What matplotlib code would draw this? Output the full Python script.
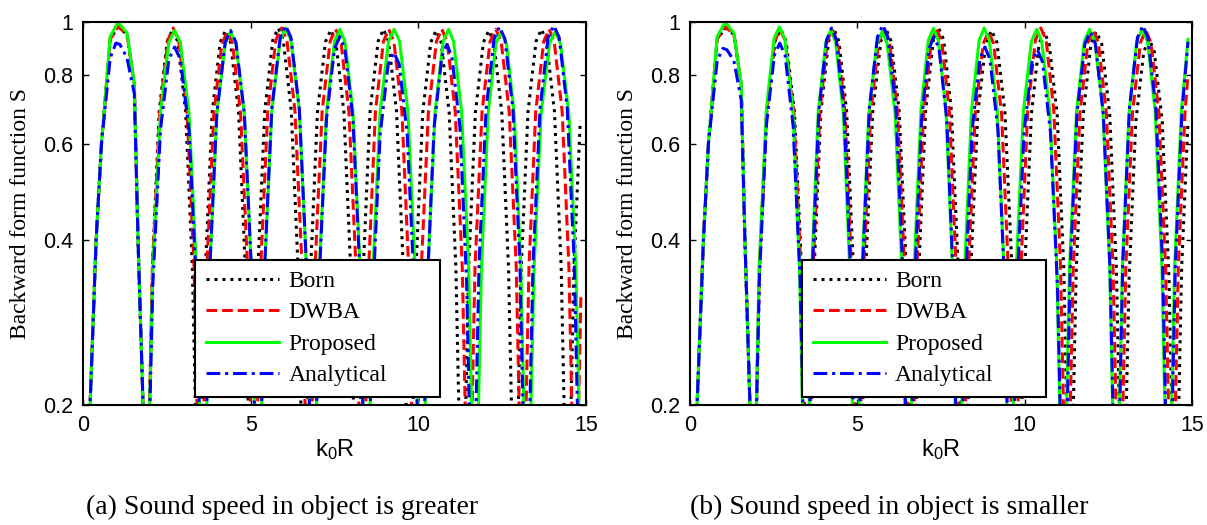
import matplotlib
matplotlib.use('Agg')
import matplotlib.pyplot as plt
from matplotlib.ticker import FixedLocator, FixedFormatter, NullLocator

# ---------------- data ----------------
# panel (a): sound speed in object is greater
a_born_x = [0.05, 0.21, 0.39, 0.55, 0.81, 1.04, 1.31, 1.53, 1.64, 1.79, 1.88,
            2.07, 2.27, 2.51, 2.67, 2.82, 3.06, 3.26, 3.46,
            3.65, 3.85, 4.09, 4.25, 4.40, 4.64, 4.84, 5.03,
            5.22, 5.42, 5.66, 5.82, 5.97, 6.21, 6.41, 6.60,
            6.79, 6.99, 7.23, 7.39, 7.54, 7.78, 7.98, 8.17,
            8.36, 8.56, 8.80, 8.96, 9.11, 9.35, 9.55, 9.74,
            9.93, 10.13, 10.37, 10.53, 10.68, 10.92, 11.12, 11.31,
            11.50, 11.70, 11.94, 12.10, 12.25, 12.49, 12.69, 12.88,
            13.07, 13.27, 13.51, 13.67, 13.82, 14.06, 14.26, 14.45,
            14.64, 14.83]
a_born_y = [0.02, 0.2, 0.4, 0.6, 0.93, 0.98, 0.95, 0.77, 0.4, 0.2, 0.1,
            0.357, 0.686, 0.922, 0.97, 0.922, 0.686, 0.357, 0.1,
            0.355, 0.682, 0.918, 0.965, 0.918, 0.682, 0.355, 0.1,
            0.359, 0.689, 0.927, 0.975, 0.927, 0.689, 0.359, 0.1,
            0.356, 0.684, 0.920, 0.967, 0.920, 0.684, 0.356, 0.1,
            0.357, 0.686, 0.922, 0.97, 0.922, 0.686, 0.357, 0.1,
            0.355, 0.682, 0.918, 0.965, 0.918, 0.682, 0.355, 0.1,
            0.355, 0.682, 0.918, 0.965, 0.918, 0.682, 0.355, 0.1,
            0.357, 0.686, 0.922, 0.97, 0.922, 0.686, 0.357, 0.1,
            0.357, 0.66]

a_dwba_x = [0.05, 0.21, 0.39, 0.55, 0.81, 1.04, 1.31, 1.53, 1.64, 1.79, 1.88,
            2.07, 2.29, 2.53, 2.69, 2.85, 3.10, 3.31, 3.50,
            3.69, 3.90, 4.14, 4.30, 4.46, 4.70, 4.91, 5.10,
            5.30, 5.51, 5.75, 5.92, 6.08, 6.32, 6.53, 6.73,
            6.92, 7.13, 7.37, 7.53, 7.69, 7.93, 8.14, 8.33,
            8.52, 8.72, 8.96, 9.12, 9.27, 9.51, 9.71, 9.90,
            10.09, 10.30, 10.54, 10.70, 10.86, 11.10, 11.31, 11.50,
            11.69, 11.90, 12.14, 12.31, 12.47, 12.71, 12.92, 13.11,
            13.30, 13.50, 13.74, 13.90, 14.05, 14.29, 14.49, 14.68,
            14.85]
a_dwba_y = [0.02, 0.2, 0.4, 0.6, 0.93, 0.98, 0.95, 0.77, 0.4, 0.2, 0.1,
            0.359, 0.689, 0.927, 0.975, 0.927, 0.689, 0.359, 0.1,
            0.353, 0.679, 0.913, 0.96, 0.913, 0.679, 0.353, 0.1,
            0.359, 0.689, 0.927, 0.975, 0.927, 0.689, 0.359, 0.1,
            0.357, 0.686, 0.922, 0.97, 0.922, 0.686, 0.357, 0.1,
            0.357, 0.686, 0.922, 0.97, 0.922, 0.686, 0.357, 0.1,
            0.357, 0.686, 0.922, 0.97, 0.922, 0.686, 0.357, 0.1,
            0.357, 0.686, 0.922, 0.97, 0.922, 0.686, 0.357, 0.1,
            0.357, 0.686, 0.922, 0.97, 0.922, 0.686, 0.357, 0.1,
            0.32]

a_prop_x = [0.05, 0.21, 0.39, 0.55, 0.81, 1.04, 1.31, 1.53, 1.64, 1.79, 1.88,
            2.08, 2.31, 2.56, 2.73, 2.90, 3.16, 3.38, 3.58,
            3.78, 3.99, 4.24, 4.40, 4.56, 4.81, 5.02, 5.22,
            5.42, 5.63, 5.88, 6.04, 6.20, 6.45, 6.66, 6.86,
            7.05, 7.26, 7.50, 7.66, 7.81, 8.05, 8.26, 8.45,
            8.65, 8.86, 9.11, 9.28, 9.44, 9.69, 9.90, 10.10,
            10.29, 10.50, 10.74, 10.90, 11.05, 11.29, 11.50, 11.69,
            11.88, 12.08, 12.31, 12.47, 12.63, 12.86, 13.06, 13.25,
            13.45, 13.66, 13.91, 14.08, 14.24, 14.49, 14.70, 14.90]
a_prop_y = [0.02, 0.2, 0.4, 0.6, 0.94, 1.0, 0.955, 0.77, 0.4, 0.2, 0.1,
            0.355, 0.682, 0.918, 0.965, 0.918, 0.682, 0.355, 0.1,
            0.353, 0.679, 0.913, 0.96, 0.913, 0.679, 0.353, 0.1,
            0.359, 0.689, 0.927, 0.975, 0.927, 0.689, 0.359, 0.1,
            0.357, 0.686, 0.922, 0.97, 0.922, 0.686, 0.357, 0.1,
            0.357, 0.686, 0.922, 0.97, 0.922, 0.686, 0.357, 0.1,
            0.357, 0.686, 0.922, 0.97, 0.922, 0.686, 0.357, 0.1,
            0.353, 0.679, 0.913, 0.96, 0.913, 0.679, 0.353, 0.1,
            0.353, 0.679, 0.913, 0.96, 0.913, 0.679, 0.353, 0.1]

a_anal_x = [0.05, 0.21, 0.39, 0.55, 0.81, 0.98, 1.10, 1.31, 1.53, 1.64, 1.79, 1.88,
            2.08, 2.31, 2.56, 2.73, 2.90, 3.16, 3.38, 3.58,
            3.78, 3.99, 4.24, 4.40, 4.56, 4.81, 5.02, 5.22,
            5.42, 5.63, 5.88, 6.04, 6.20, 6.45, 6.66, 6.86,
            7.05, 7.26, 7.50, 7.66, 7.81, 8.05, 8.26, 8.45,
            8.65, 8.86, 9.10, 9.27, 9.43, 9.67, 9.88, 10.08,
            10.27, 10.47, 10.70, 10.85, 11.00, 11.24, 11.44, 11.62,
            11.81, 12.02, 12.26, 12.42, 12.58, 12.82, 13.03, 13.22,
            13.42, 13.63, 13.87, 14.04, 14.20, 14.44, 14.65, 14.85]
a_anal_y = [0.02, 0.2, 0.4, 0.6, 0.86, 0.915, 0.91, 0.86, 0.74, 0.4, 0.2, 0.1,
            0.331, 0.636, 0.856, 0.90, 0.856, 0.636, 0.331, 0.1,
            0.355, 0.682, 0.918, 0.965, 0.918, 0.682, 0.355, 0.1,
            0.362, 0.696, 0.937, 0.985, 0.937, 0.696, 0.362, 0.1,
            0.346, 0.665, 0.894, 0.94, 0.894, 0.665, 0.346, 0.1,
            0.324, 0.622, 0.837, 0.88, 0.837, 0.622, 0.324, 0.1,
            0.335, 0.643, 0.865, 0.91, 0.865, 0.643, 0.335, 0.1,
            0.361, 0.693, 0.932, 0.98, 0.932, 0.693, 0.361, 0.1,
            0.362, 0.696, 0.937, 0.985, 0.937, 0.696, 0.362, 0.1]

# panel (b): sound speed in object is smaller
b_born_x = [0.05, 0.21, 0.40, 0.55, 0.81, 1.05, 1.31, 1.53, 1.64, 1.79, 1.88,
            2.08, 2.29, 2.54, 2.71, 2.87, 3.12, 3.33, 3.53,
            3.71, 3.91, 4.14, 4.30, 4.45, 4.68, 4.88, 5.06,
            5.25, 5.46, 5.70, 5.86, 6.01, 6.25, 6.46, 6.65,
            6.84, 7.04, 7.27, 7.43, 7.58, 7.81, 8.01, 8.20,
            8.39, 8.60, 8.84, 9.01, 9.17, 9.41, 9.62, 9.81,
            10.00, 10.20, 10.43, 10.58, 10.73, 10.97, 11.17, 11.35,
            11.54, 11.75, 11.98, 12.14, 12.30, 12.54, 12.74, 12.93,
            13.12, 13.32, 13.56, 13.72, 13.87, 14.11, 14.31, 14.50,
            14.69, 14.88]
b_born_y = [0.02, 0.2, 0.4, 0.6, 0.93, 0.975, 0.95, 0.77, 0.4, 0.2, 0.1,
            0.357, 0.686, 0.922, 0.97, 0.922, 0.686, 0.357, 0.1,
            0.357, 0.686, 0.922, 0.97, 0.922, 0.686, 0.357, 0.1,
            0.357, 0.686, 0.922, 0.97, 0.922, 0.686, 0.357, 0.1,
            0.359, 0.689, 0.927, 0.975, 0.927, 0.689, 0.359, 0.1,
            0.355, 0.682, 0.918, 0.965, 0.918, 0.682, 0.355, 0.1,
            0.353, 0.679, 0.913, 0.96, 0.913, 0.679, 0.353, 0.1,
            0.353, 0.679, 0.913, 0.96, 0.913, 0.679, 0.353, 0.1,
            0.342, 0.658, 0.884, 0.93, 0.884, 0.658, 0.342, 0.1,
            0.357, 0.66]

b_dwba_x = [0.05, 0.21, 0.40, 0.55, 0.81, 1.05, 1.31, 1.53, 1.64, 1.79, 1.88,
            2.07, 2.29, 2.53, 2.69, 2.85, 3.10, 3.31, 3.50,
            3.68, 3.88, 4.10, 4.25, 4.40, 4.63, 4.82, 5.00,
            5.19, 5.40, 5.64, 5.80, 5.96, 6.20, 6.41, 6.60,
            6.78, 6.98, 7.21, 7.37, 7.52, 7.75, 7.95, 8.13,
            8.32, 8.52, 8.76, 8.92, 9.07, 9.31, 9.51, 9.70,
            9.89, 10.09, 10.32, 10.48, 10.64, 10.87, 11.07, 11.26,
            11.45, 11.65, 11.89, 12.05, 12.20, 12.44, 12.64, 12.83,
            13.02, 13.22, 13.46, 13.62, 13.77, 14.01, 14.21, 14.40,
            14.59, 14.79, 14.88]
b_dwba_y = [0.02, 0.2, 0.4, 0.6, 0.93, 0.98, 0.95, 0.77, 0.4, 0.2, 0.1,
            0.357, 0.686, 0.922, 0.97, 0.922, 0.686, 0.357, 0.1,
            0.357, 0.686, 0.922, 0.97, 0.922, 0.686, 0.357, 0.1,
            0.357, 0.686, 0.922, 0.97, 0.922, 0.686, 0.357, 0.1,
            0.357, 0.686, 0.922, 0.97, 0.922, 0.686, 0.357, 0.1,
            0.353, 0.679, 0.913, 0.96, 0.913, 0.679, 0.353, 0.1,
            0.359, 0.689, 0.927, 0.975, 0.927, 0.689, 0.359, 0.1,
            0.355, 0.682, 0.918, 0.965, 0.918, 0.682, 0.355, 0.1,
            0.355, 0.682, 0.918, 0.965, 0.918, 0.682, 0.355, 0.1,
            0.357, 0.686, 0.80]

b_prop_x = [0.05, 0.21, 0.40, 0.55, 0.81, 1.05, 1.31, 1.53, 1.64, 1.79, 1.88,
            2.07, 2.28, 2.51, 2.67, 2.83, 3.07, 3.27, 3.46,
            3.64, 3.83, 4.06, 4.21, 4.35, 4.58, 4.77, 4.95,
            5.14, 5.34, 5.58, 5.74, 5.89, 6.13, 6.33, 6.52,
            6.70, 6.90, 7.12, 7.27, 7.42, 7.65, 7.84, 8.02,
            8.21, 8.41, 8.64, 8.79, 8.94, 9.18, 9.38, 9.56,
            9.75, 9.96, 10.20, 10.36, 10.51, 10.75, 10.96, 11.15,
            11.34, 11.55, 11.78, 11.94, 12.10, 12.34, 12.54, 12.73,
            12.92, 13.12, 13.35, 13.51, 13.67, 13.90, 14.10, 14.29,
            14.48, 14.68, 14.88]
b_prop_y = [0.02, 0.2, 0.4, 0.6, 0.94, 1.0, 0.955, 0.77, 0.4, 0.2, 0.1,
            0.361, 0.693, 0.932, 0.98, 0.932, 0.693, 0.361, 0.1,
            0.356, 0.684, 0.920, 0.967, 0.920, 0.684, 0.356, 0.1,
            0.353, 0.679, 0.913, 0.96, 0.913, 0.679, 0.353, 0.1,
            0.358, 0.689, 0.926, 0.974, 0.926, 0.689, 0.358, 0.1,
            0.359, 0.689, 0.927, 0.975, 0.927, 0.689, 0.359, 0.1,
            0.357, 0.686, 0.922, 0.97, 0.922, 0.686, 0.357, 0.1,
            0.357, 0.686, 0.922, 0.97, 0.922, 0.686, 0.357, 0.1,
            0.357, 0.686, 0.922, 0.97, 0.922, 0.686, 0.357, 0.1,
            0.357, 0.686, 0.93]

b_anal_x = [0.05, 0.21, 0.40, 0.55, 0.81, 0.98, 1.10, 1.31, 1.53, 1.64, 1.79, 1.88,
            2.07, 2.28, 2.52, 2.68, 2.84, 3.08, 3.29, 3.48,
            3.66, 3.85, 4.08, 4.23, 4.37, 4.60, 4.79, 4.97,
            5.16, 5.36, 5.60, 5.76, 5.91, 6.15, 6.35, 6.54,
            6.72, 6.92, 7.14, 7.29, 7.44, 7.67, 7.86, 8.04,
            8.23, 8.43, 8.66, 8.81, 8.96, 9.20, 9.40, 9.58,
            9.77, 9.98, 10.22, 10.38, 10.53, 10.77, 10.98, 11.17,
            11.36, 11.56, 11.80, 11.96, 12.11, 12.35, 12.55, 12.74,
            12.93, 13.13, 13.37, 13.53, 13.68, 13.92, 14.12, 14.31,
            14.50, 14.70, 14.88]
b_anal_y = [0.02, 0.2, 0.4, 0.6, 0.85, 0.895, 0.89, 0.85, 0.72, 0.4, 0.2, 0.1,
            0.337, 0.647, 0.870, 0.915, 0.870, 0.647, 0.337, 0.1,
            0.359, 0.689, 0.927, 0.975, 0.927, 0.689, 0.359, 0.1,
            0.363, 0.698, 0.939, 0.987, 0.939, 0.698, 0.363, 0.1,
            0.346, 0.665, 0.894, 0.94, 0.894, 0.665, 0.346, 0.1,
            0.331, 0.636, 0.856, 0.90, 0.856, 0.636, 0.331, 0.1,
            0.328, 0.629, 0.846, 0.89, 0.846, 0.629, 0.328, 0.1,
            0.353, 0.679, 0.913, 0.96, 0.913, 0.679, 0.353, 0.1,
            0.362, 0.696, 0.937, 0.985, 0.937, 0.696, 0.362, 0.1,
            0.357, 0.686, 0.92]

series_names = ['Born', 'DWBA', 'Proposed', 'Analytical']
x_ticks = [0, 5, 10, 15]
y_ticks = [0.2, 0.4, 0.6, 0.8, 1.0]
y_tick_labels = ['0.2', '0.4', '0.6', '0.8', '1']
captions = ['(a) Sound speed in object is greater', '(b) Sound speed in object is smaller']

# ---------------- drawing ----------------
plt.rcParams['font.family'] = ['Liberation Sans', 'DejaVu Sans']
plt.rcParams['mathtext.default'] = 'regular'
SERIF = ['Liberation Serif', 'DejaVu Serif']

fig = plt.figure(figsize=(12.07, 5.25), dpi=100)
ax1 = fig.add_axes([0.0688, 0.2286, 0.4167, 0.7295])
ax2 = fig.add_axes([0.5717, 0.2286, 0.4159, 0.7295])

panels = [
    (ax1, [(a_born_x, a_born_y), (a_dwba_x, a_dwba_y), (a_prop_x, a_prop_y), (a_anal_x, a_anal_y)]),
    (ax2, [(b_born_x, b_born_y), (b_dwba_x, b_dwba_y), (b_prop_x, b_prop_y), (b_anal_x, b_anal_y)]),
]
styles = [dict(color='black', linestyle=(0, (1.0, 1.6))),
          dict(color='#ff0000', linestyle=(0, (3.5, 1.6))),
          dict(color='#00ff00', linestyle='-'),
          dict(color='#0000ff', linestyle=(0, (4.5, 1.6, 1.0, 1.6)))]

for ax, data in panels:
    for (xs, ys), name, st in zip(data, series_names, styles):
        ax.plot(xs, ys, linewidth=2.2, label=name, **st)
    ax.set_yscale('log')
    ax.set_xlim(0, 15)
    ax.set_ylim(0.2, 1.0)
    ax.yaxis.set_major_locator(FixedLocator(y_ticks))
    ax.yaxis.set_major_formatter(FixedFormatter(y_tick_labels))
    ax.yaxis.set_minor_locator(NullLocator())
    ax.xaxis.set_major_locator(FixedLocator(x_ticks))
    ax.tick_params(direction='in', length=4.5, width=1.0, labelsize=15.5,
                   top=True, right=True, pad=7)
    for sp in ax.spines.values():
        sp.set_linewidth(1.5)
    ax.set_xlabel('k$_0$R', fontsize=17, labelpad=1)
    ax.set_ylabel('Backward form function S', fontsize=17, family=SERIF, labelpad=9)
    leg = ax.legend(loc='lower left', bbox_to_anchor=(0.223, 0.021, 0.487, 0.37),
                    mode='expand', borderaxespad=0, fancybox=False, framealpha=1,
                    edgecolor='black', prop=dict(family=SERIF, size=17),
                    handlelength=3.1, handletextpad=0.4, labelspacing=0.42,
                    borderpad=0.45)
    leg.get_frame().set_linewidth(1.5)

fig.text(0.071, 0.034, captions[0], family=SERIF, fontsize=20, ha='left', va='center')
fig.text(0.5717, 0.034, captions[1], family=SERIF, fontsize=20, ha='left', va='center')

fig.savefig('out.png', dpi=100)
